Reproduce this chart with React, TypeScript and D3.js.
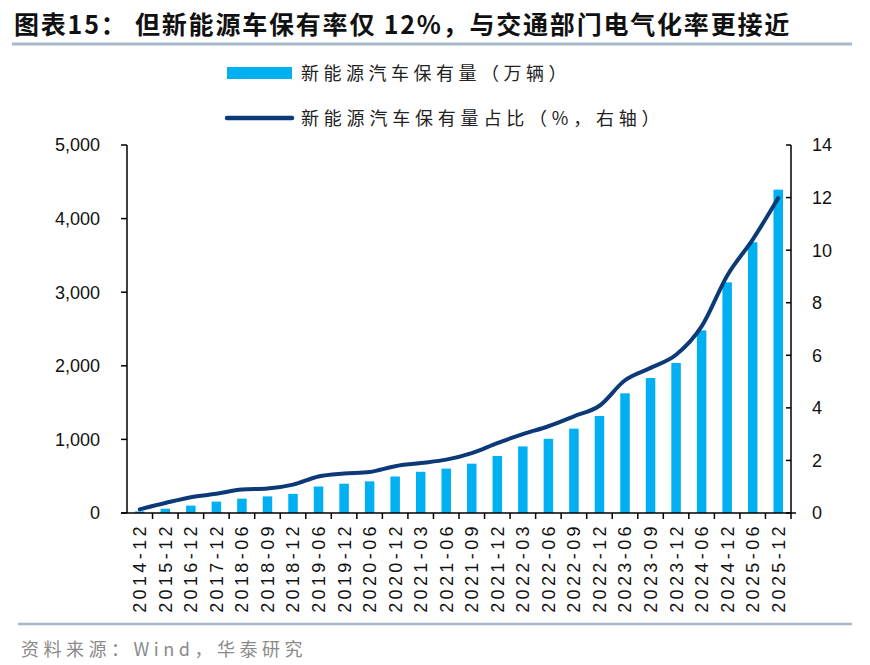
import React from "react";
import * as d3 from "d3";

const categories = [
  "2014-12", "2015-12", "2016-12", "2017-12", "2018-06", "2018-09", "2018-12",
  "2019-06", "2019-12", "2020-06", "2020-12", "2021-03", "2021-06", "2021-09",
  "2021-12", "2022-03", "2022-06", "2022-09", "2022-12", "2023-06", "2023-09",
  "2023-12", "2024-06", "2024-12", "2025-06", "2025-12",
];
const stockValues = [
  22, 58, 100, 155, 195, 226, 260, 360, 398, 430, 496, 560, 603, 670,
  775, 905, 1008, 1146, 1318, 1626, 1834, 2038, 2482, 3134, 3678, 4393,
];
const shareValues = [
  0.14, 0.38, 0.6, 0.73, 0.89, 0.93, 1.08, 1.39, 1.5, 1.56, 1.78, 1.9, 2.03, 2.28,
  2.66, 3.0, 3.3, 3.68, 4.08, 5.05, 5.52, 6.02, 7.1, 9.03, 10.4, 11.98,
];
const leftTicks = [0, 1000, 2000, 3000, 4000, 5000];
const rightTicks = [0, 2, 4, 6, 8, 10, 12, 14];

const title = "图表15：  但新能源车保有率仅 12%，与交通部门电气化率更接近";
const legendBar = "新能源汽车保有量（万辆）";
const legendLine = "新能源汽车保有量占比（%，右轴）";
const source = "资料来源：Wind，华泰研究";

const BAR_COLOR = "#00b0f0";
const LINE_COLOR = "#0c3a78";
const NUM_FONT = "'Liberation Sans', Arial, sans-serif";
const CJK_FONT = "'Noto Sans CJK SC', 'Noto Sans', sans-serif";

export default function App() {
  const W = 870;
  const H = 665;
  const left = 127;
  const right = 791;
  const top = 145;
  const bottom = 513;

  const x = d3.scaleBand<string>().domain(categories).range([left, right]).padding(0);
  const yL = d3.scaleLinear().domain([0, 5000]).range([bottom, top]);
  const yR = d3.scaleLinear().domain([0, 14]).range([bottom, top]);
  const bw = 9.5;
  const fmt = d3.format(",");

  const linePath = d3
    .line<number>()
    .x((_, i) => (x(categories[i]) as number) + x.bandwidth() / 2)
    .y((d) => yR(d))
    .curve(d3.curveMonotoneX)(shareValues) as string;

  return (
    <svg
      width={W}
      height={H}
      style={{ position: "absolute", left: 0, top: 0, background: "#fff" }}
    >
      {/* title */}
      <text
        x={14}
        y={34}
        fontFamily={CJK_FONT}
        fontWeight={700}
        fontSize={25}
        fill="#111"
        letterSpacing={1.8}
      >
        {title}
      </text>
      <line x1={12} x2={852} y1={44} y2={44} stroke="#a9b9cb" strokeWidth={3} />

      {/* legend */}
      <rect x={227} y={67} width={65} height={12} fill={BAR_COLOR} />
      <text x={301} y={80} fontFamily={CJK_FONT} fontSize={18} fill="#222" letterSpacing={4.5}>
        {legendBar}
      </text>
      <line x1={227} x2={292} y1={118} y2={118} stroke={LINE_COLOR} strokeWidth={4.5} strokeLinecap="round" />
      <text x={301} y={125} fontFamily={CJK_FONT} fontSize={18} fill="#222" letterSpacing={4.8}>
        {legendLine}
      </text>

      {/* bars */}
      {stockValues.map((v, i) => {
        const cx = (x(categories[i]) as number) + x.bandwidth() / 2;
        return (
          <rect
            key={categories[i]}
            x={cx - bw / 2}
            y={yL(v)}
            width={bw}
            height={yL(0) - yL(v)}
            fill={BAR_COLOR}
          />
        );
      })}

      {/* line */}
      <path d={linePath} fill="none" stroke={LINE_COLOR} strokeWidth={4} strokeLinejoin="round" strokeLinecap="round" />

      {/* left axis */}
      <line x1={left} x2={left} y1={top} y2={bottom} stroke="#000" strokeWidth={1.5} />
      {leftTicks.map((t) => (
        <g key={"l" + t}>
          <line x1={left - 6} x2={left} y1={yL(t)} y2={yL(t)} stroke="#000" strokeWidth={1.5} />
          <text
            x={100}
            y={yL(t)}
            dy="0.36em"
            textAnchor="end"
            fontFamily={NUM_FONT}
            fontSize={18}
            fill="#111"
          >
            {fmt(t)}
          </text>
        </g>
      ))}

      {/* right axis */}
      <line x1={right} x2={right} y1={top} y2={bottom} stroke="#000" strokeWidth={1.5} />
      {rightTicks.map((t) => (
        <g key={"r" + t}>
          <line x1={right - 5} x2={right} y1={yR(t)} y2={yR(t)} stroke="#000" strokeWidth={1.5} />
          <text
            x={812}
            y={yR(t)}
            dy="0.36em"
            textAnchor="start"
            fontFamily={NUM_FONT}
            fontSize={18}
            fill="#111"
          >
            {t}
          </text>
        </g>
      ))}

      {/* x axis */}
      <line x1={left - 6} x2={right + 5} y1={bottom} y2={bottom} stroke="#000" strokeWidth={1.5} />
      {categories.map((c) => {
        const bx = (x(c) as number) + x.bandwidth();
        return (
          <line key={"t" + c} x1={bx} x2={bx} y1={bottom} y2={bottom + 6} stroke="#000" strokeWidth={1.5} />
        );
      })}
      {categories.map((c) => {
        const cx = (x(c) as number) + x.bandwidth() / 2;
        return (
          <text
            key={"x" + c}
            transform={`translate(${cx},${bottom + 10}) rotate(-90)`}
            textAnchor="end"
            dy="0.36em"
            fontFamily={NUM_FONT}
            fontSize={18}
            fill="#111"
            letterSpacing={3.4}
          >
            {c}
          </text>
        );
      })}

      {/* footer */}
      <line x1={18} x2={852} y1={624} y2={624} stroke="#a9b9cb" strokeWidth={2.5} />
      <text x={21} y={656} fontFamily={CJK_FONT} fontSize={18} fill="#8a8a8a" letterSpacing={4.5}>
        {source}
      </text>
    </svg>
  );
}
